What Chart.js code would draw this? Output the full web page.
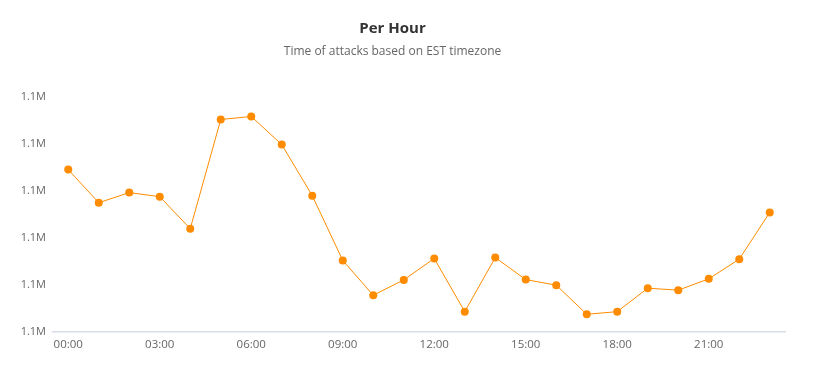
<!DOCTYPE html>
<html>
<head>
<meta charset="utf-8">
<script src="https://cdn.jsdelivr.net/npm/chart.js@4"></script>
<style>
  html, body { margin: 0; padding: 0; background: #fff; }
  #wrap { width: 823px; height: 388px; }
</style>
</head>
<body>
<div id="wrap"><canvas id="chart"></canvas></div>
<script>
// hours of the day (EST)
const hours = ['00:00', '01:00', '02:00', '03:00', '04:00', '05:00', '06:00', '07:00',
  '08:00', '09:00', '10:00', '11:00', '12:00', '13:00', '14:00', '15:00',
  '16:00', '17:00', '18:00', '19:00', '20:00', '21:00', '22:00', '23:00'];

// attacks per hour
const attacks = [1117230, 1113720, 1114790, 1114360, 1110960, 1122550, 1122870, 1119890,
  1114470, 1107590, 1103900, 1105530, 1107800, 1102160, 1107900, 1105560,
  1104970, 1101880, 1102160, 1104650, 1104440, 1105640, 1107730, 1112690];

const yMin = 1100000;
const yMax = 1125000;
const yStep = 5000;

const orange = '#ff8c00';
const font = "'Open Sans', sans-serif";

new Chart(document.getElementById('chart'), {
  type: 'line',
  data: {
    labels: hours,
    datasets: [{
      label: 'Attacks',
      data: attacks,
      borderColor: orange,
      backgroundColor: orange,
      borderWidth: 1,
      pointRadius: 4,
      pointBorderWidth: 0,
      pointBackgroundColor: orange,
      tension: 0
    }]
  },
  options: {
    responsive: true,
    maintainAspectRatio: false,
    animation: false,
    layout: { padding: { left: 0, right: 38, top: 0, bottom: 0 } },
    plugins: {
      legend: { display: false },
      tooltip: { enabled: false },
      title: {
        display: true,
        text: 'Per Hour',
        color: '#333333',
        font: { family: font, size: 15, weight: 'bold', lineHeight: 1.2 },
        padding: { top: 20, bottom: 4 }
      },
      subtitle: {
        display: true,
        text: 'Time of attacks based on EST timezone',
        color: '#666666',
        font: { family: font, size: 12, lineHeight: 1.2 },
        padding: { top: 2, bottom: 38 }
      }
    },
    scales: {
      x: {
        offset: true,
        grid: { display: false, drawTicks: false },
        border: { display: true, color: '#d8dde6', width: 1.5 },
        ticks: {
          color: '#666666',
          font: { family: font, size: 11.5 },
          padding: 6,
          autoSkip: false,
          maxRotation: 0,
          callback: function(value, index) {
            return index % 3 === 0 ? hours[index] : '';
          }
        },
        afterFit: function(scale) { scale.height = 56; }
      },
      y: {
        min: yMin,
        max: yMax,
        grid: { display: false, drawTicks: false },
        border: { display: false },
        ticks: {
          stepSize: yStep,
          color: '#666666',
          font: { family: font, size: 11 },
          padding: 7,
          callback: function(value) {
            return (Math.floor(value / 100000) / 10).toFixed(1) + 'M';
          }
        },
        afterFit: function(scale) { scale.width = 53; }
      }
    }
  }
});
</script>
</body>
</html>
